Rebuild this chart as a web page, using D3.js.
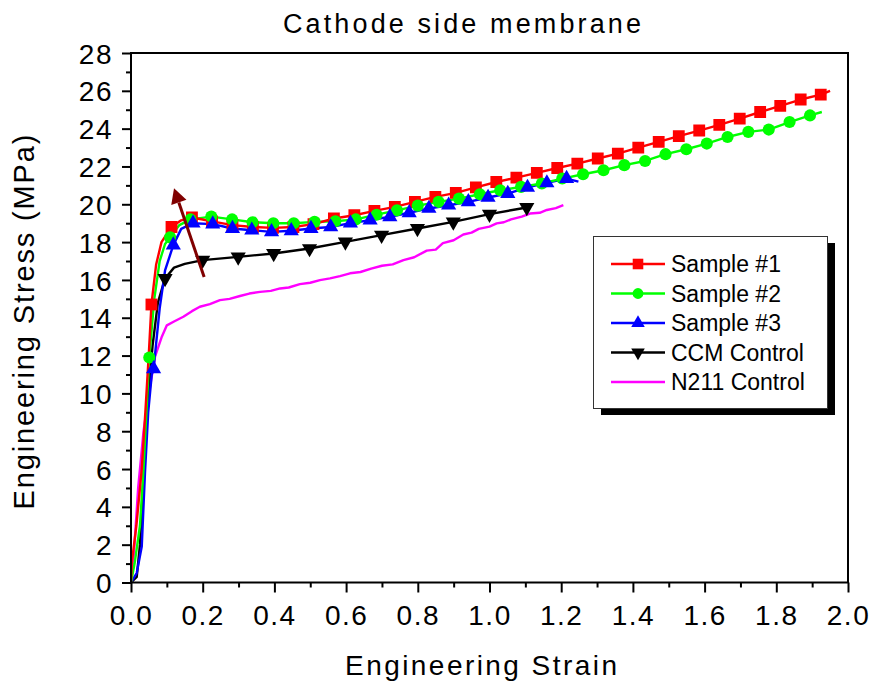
<!DOCTYPE html>
<html><head><meta charset="utf-8">
<script src="https://cdn.jsdelivr.net/npm/d3@7/dist/d3.min.js"></script>
<style>body{margin:0;background:#fff}</style>
</head><body>
<svg id="chart" width="873" height="686"></svg>
<script>
// ---- text ----
const chartTitle = "Cathode side membrane";
const xTitle = "Engineering Strain";
const yTitle = "Engineering Stress (MPa)";
const xTickValues = [0, 0.2, 0.4, 0.6, 0.8, 1.0, 1.2, 1.4, 1.6, 1.8, 2.0];
const xTickLabels = ["0.0","0.2","0.4","0.6","0.8","1.0","1.2","1.4","1.6","1.8","2.0"];
const xMinorValues = [0.1, 0.3, 0.5, 0.7, 0.9, 1.1, 1.3, 1.5, 1.7, 1.9];
const yTickValues = [0,2,4,6,8,10,12,14,16,18,20,22,24,26,28];
const yTickLabels = ["0","2","4","6","8","10","12","14","16","18","20","22","24","26","28"];
const yMinorValues = [1,3,5,7,9,11,13,15,17,19,21,23,25,27];
const seriesNames = ["Sample #1", "Sample #2", "Sample #3", "CCM Control", "N211 Control"];

// ---- Sample #1 (markers + line) ----
const s1Strain = [0.057,0.113,0.170,0.226,0.283,0.340,0.396,0.453,0.509,0.566,0.623,0.679,0.736,0.792,0.849,0.906,0.962,1.019,1.075,1.132,1.189,1.245,1.302,1.358,1.415,1.472,1.528,1.585,1.641,1.698,1.755,1.811,1.868,1.924];
const s1Stress = [14.7,18.8,19.3,19.1,18.9,18.8,18.75,18.8,18.95,19.25,19.42,19.65,19.86,20.13,20.39,20.6,20.89,21.18,21.41,21.66,21.92,22.15,22.42,22.68,23.0,23.3,23.6,23.9,24.2,24.53,24.88,25.2,25.54,25.8];
const s1ExtraStrain = [0,0.002,0.015,0.03,0.04,0.05,0.07,0.085,0.14,1.95];
const s1ExtraStress = [0,1.0,3.0,6.0,9.0,12.2,16.8,18.0,19.15,26.0];

// ---- Sample #2 ----
const s2Strain = [0.051,0.109,0.166,0.224,0.282,0.339,0.397,0.454,0.512,0.570,0.627,0.685,0.742,0.800,0.858,0.915,0.973,1.030,1.088,1.146,1.203,1.261,1.318,1.376,1.434,1.491,1.549,1.606,1.664,1.722,1.779,1.837,1.894];
const s2Stress = [11.9,18.25,19.2,19.35,19.2,19.05,19.0,19.0,19.07,19.1,19.2,19.45,19.68,19.93,20.13,20.3,20.53,20.74,20.92,21.1,21.36,21.59,21.8,22.07,22.29,22.65,22.91,23.21,23.56,23.83,23.95,24.35,24.7];
const s2ExtraStrain = [0,0.01,0.025,0.035,0.043,0.065,0.08,0.095,0.135,1.927];
const s2ExtraStress = [0,1.0,3.0,6.0,9.0,15.0,17.0,17.9,18.9,24.88];

// ---- Sample #3 ----
const s3Strain = [0.063,0.118,0.173,0.228,0.283,0.337,0.392,0.447,0.502,0.557,0.612,0.667,0.722,0.776,0.831,0.886,0.941,0.996,1.051,1.106,1.160,1.215];
const s3Stress = [11.3,17.84,19.0,18.95,18.72,18.63,18.54,18.6,18.72,18.8,19.0,19.16,19.34,19.55,19.78,19.95,20.13,20.36,20.57,20.89,21.13,21.36];
const s3ExtraStrain = [0,0.016,0.03,0.039,0.048,0.058,0.08,0.095,0.14,1.248];
const s3ExtraStress = [0,0.5,1.9,5.8,9.0,11.0,14.5,16.5,18.7,21.2];

// ---- CCM Control ----
const ccmStrain = [0.095,0.200,0.299,0.398,0.498,0.598,0.699,0.799,0.899,1.000,1.104];
const ccmStress = [16.08,17.05,17.22,17.4,17.66,18.01,18.37,18.72,19.07,19.48,19.83];
const ccmExtraStrain = [0,0.016,0.025,0.035,0.045,0.06,0.075,0.12,0.15,1.11];
const ccmExtraStress = [0,0.3,2.0,5.5,9.0,12.5,14.8,16.65,16.85,19.95];

// ---- N211 Control (line only, jagged trace) ----
const n211Strain = [0,0.008,0.02,0.035,0.05,0.067,0.086,0.1,0.12,0.146,0.17,0.192,0.22,0.248,0.275,0.304,0.33,0.36,0.39,0.416,0.44,0.471,0.5,0.527,0.555,0.583,0.611,0.64,0.67,0.7,0.73,0.76,0.79,0.825,0.85,0.87,0.9,0.927,0.95,0.97,1.0,1.02,1.04,1.06,1.09,1.113,1.14,1.16,1.185,1.206];
const n211Stress = [0,1.5,5.0,8.0,10.0,11.94,13.0,13.6,13.8,14.05,14.35,14.58,14.72,14.93,15.0,15.15,15.28,15.37,15.42,15.55,15.6,15.78,15.85,15.99,16.08,16.2,16.35,16.42,16.6,16.75,16.82,17.05,17.2,17.55,17.6,17.95,18.1,18.4,18.5,18.7,18.82,18.99,19.05,19.2,19.35,19.51,19.55,19.7,19.8,19.95];

// ---- arrow annotation (data coords) ----
const arrowFrom = [0.204, 16.15];
const arrowTo = [0.12, 20.85];

// ---------------- drawing ----------------
const W = 873, H = 686;
const plot = {left: 131, right: 848, top: 53, bottom: 582.5};
const font = "'Liberation Sans', Arial, sans-serif";
const svg = d3.select("#chart");
svg.append("rect").attr("width", W).attr("height", H).attr("fill", "#fff");

const x = d3.scaleLinear().domain([0, 2]).range([plot.left, plot.right]);
const y = d3.scaleLinear().domain([0, 28]).range([plot.bottom, plot.top]);

const zip = (a, b) => a.map((v, i) => [v, b[i]]);
const series = [
  {name: seriesNames[0], color: "#ff0000", shape: "square",
   markers: zip(s1Strain, s1Stress), extra: zip(s1ExtraStrain, s1ExtraStress)},
  {name: seriesNames[1], color: "#00ff00", shape: "circle",
   markers: zip(s2Strain, s2Stress), extra: zip(s2ExtraStrain, s2ExtraStress)},
  {name: seriesNames[2], color: "#0000ff", shape: "triangle",
   markers: zip(s3Strain, s3Stress), extra: zip(s3ExtraStrain, s3ExtraStress)},
  {name: seriesNames[3], color: "#000000", shape: "triangleDown",
   markers: zip(ccmStrain, ccmStress), extra: zip(ccmExtraStrain, ccmExtraStress)},
  {name: seriesNames[4], color: "#ff00ff", shape: null,
   markers: [], extra: zip(n211Strain, n211Stress)}
];

svg.append("clipPath").attr("id", "clip").append("rect")
  .attr("x", plot.left).attr("y", plot.top)
  .attr("width", plot.right - plot.left).attr("height", plot.bottom - plot.top);

function symbolPath(shape, big) {
  const k = big ? 1 : 0.8;
  if (shape === "square") return d3.symbol(d3.symbolSquare, 140 * k)();
  if (shape === "circle") return d3.symbol(d3.symbolCircle, 115 * k)();
  if (shape === "triangle" || shape === "triangleDown") return d3.symbol(d3.symbolTriangle, 100 * k)();
  return null;
}

const line = d3.line().x(d => x(d[0])).y(d => y(d[1]));
const dataG = svg.append("g").attr("clip-path", "url(#clip)");

const order = [4, 3, 2, 1, 0];
order.forEach(i => {
  const s = series[i];
  const pts = s.markers.concat(s.extra).sort((a, b) => a[0] - b[0]);
  dataG.append("path").datum(pts)
    .attr("d", line).attr("fill", "none")
    .attr("stroke", s.color).attr("stroke-width", 2.4)
    .attr("stroke-linejoin", "round");
});
[4, 3, 0, 1, 2].forEach(i => {
  const s = series[i];
  if (!s.shape) return;
  const p = symbolPath(s.shape, true);
  dataG.selectAll(null).data(s.markers).enter().append("path")
    .attr("d", p)
    .attr("transform", d => `translate(${x(d[0])},${y(d[1])})` + (s.shape === "triangleDown" ? " rotate(180)" : ""))
    .attr("fill", s.color);
});

// arrow
const ax0 = x(arrowFrom[0]), ay0 = y(arrowFrom[1]);
const ax1 = x(arrowTo[0]), ay1 = y(arrowTo[1]);
const ang = Math.atan2(ay1 - ay0, ax1 - ax0);
const headLen = 15, headHalf = 8;
const bx = ax1 - headLen * Math.cos(ang), by = ay1 - headLen * Math.sin(ang);
svg.append("line").attr("x1", ax0).attr("y1", ay0).attr("x2", bx).attr("y2", by)
  .attr("stroke", "#800000").attr("stroke-width", 3);
svg.append("path")
  .attr("d", `M${ax1},${ay1} L${bx + headHalf * Math.sin(ang)},${by - headHalf * Math.cos(ang)} L${bx - headHalf * Math.sin(ang)},${by + headHalf * Math.cos(ang)} Z`)
  .attr("fill", "#800000");

// axes
const axG = svg.append("g");
const xAxis = d3.axisBottom(x).tickValues(xTickValues).tickSize(10)
  .tickFormat((d, i) => xTickLabels[i]);
const xMinor = d3.axisBottom(x).tickValues(xMinorValues).tickSize(5).tickFormat("");
const yAxis = d3.axisLeft(y).tickValues(yTickValues).tickSize(9)
  .tickFormat((d, i) => yTickLabels[i]);
const yMinor = d3.axisLeft(y).tickValues(yMinorValues).tickSize(5).tickFormat("");

function styleAxis(g) {
  g.select(".domain").remove();
  g.selectAll(".tick line").attr("stroke", "#000").attr("stroke-width", 2);
  g.selectAll(".tick text").attr("fill", "#000").style("font-family", font)
    .style("font-size", "28px").style("letter-spacing", "1.5px");
}
axG.append("g").attr("transform", `translate(0,${plot.bottom})`).call(xAxis).call(styleAxis)
  .selectAll(".tick text").attr("y", 0).attr("dy", null).attr("dominant-baseline", "auto")
  .attr("transform", "translate(0,42.5)");
axG.append("g").attr("transform", `translate(0,${plot.bottom})`).call(xMinor).call(styleAxis);
axG.append("g").attr("transform", `translate(${plot.left},0)`).call(yAxis).call(styleAxis)
  .selectAll(".tick text").attr("x", -18).attr("dy", "0.36em");
axG.append("g").attr("transform", `translate(${plot.left},0)`).call(yMinor).call(styleAxis);

// frame
svg.append("rect").attr("x", plot.left).attr("y", plot.top)
  .attr("width", plot.right - plot.left).attr("height", plot.bottom - plot.top)
  .attr("fill", "none").attr("stroke", "#000").attr("stroke-width", 2);

// titles
svg.append("text").attr("x", 462).attr("y", 33).attr("text-anchor", "middle")
  .style("font-family", font).style("font-size", "27px")
  .attr("textLength", 358).attr("lengthAdjust", "spacing").text(chartTitle);
svg.append("text").attr("x", 481).attr("y", 675).attr("text-anchor", "middle")
  .style("font-family", font).style("font-size", "28px")
  .attr("textLength", 272).attr("lengthAdjust", "spacing").text(xTitle);
svg.append("text").attr("transform", "translate(34,322) rotate(-90)").attr("text-anchor", "middle")
  .style("font-family", font).style("font-size", "29px")
  .attr("textLength", 375).attr("lengthAdjust", "spacing").text(yTitle);

// legend
const lg = svg.append("g");
lg.append("rect").attr("x", 601).attr("y", 243).attr("width", 234).attr("height", 172).attr("fill", "#000");
lg.append("rect").attr("x", 593.5).attr("y", 236.5).attr("width", 234).attr("height", 172)
  .attr("fill", "#fff").attr("stroke", "#333").attr("stroke-width", 1);
const rowY = d3.scaleLinear().domain([0, 4]).range([264, 382]);
series.forEach((s, i) => {
  const yy = rowY(i);
  lg.append("line").attr("x1", 611).attr("x2", 665).attr("y1", yy).attr("y2", yy)
    .attr("stroke", s.color).attr("stroke-width", 2.4);
  if (s.shape) {
    lg.append("path").attr("d", symbolPath(s.shape, false))
      .attr("transform", `translate(638,${yy})` + (s.shape === "triangleDown" ? " rotate(180)" : ""))
      .attr("fill", s.color);
  }
  lg.append("text").attr("x", 671).attr("y", yy + 8)
    .style("font-family", font).style("font-size", "23px").attr("fill", "#000").text(s.name);
});
</script>
</body></html>
